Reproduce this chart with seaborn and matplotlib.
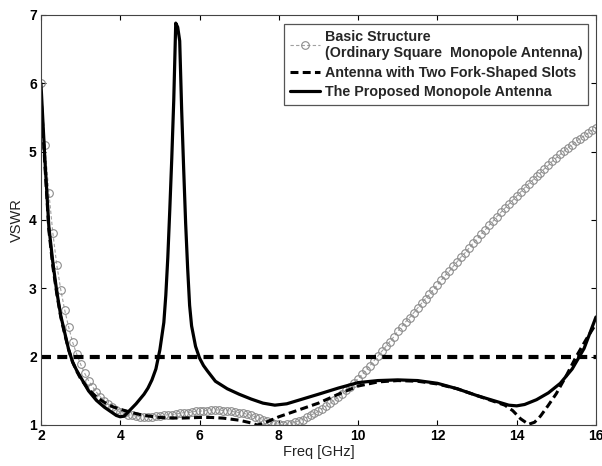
import matplotlib
matplotlib.use("Agg")
import matplotlib.pyplot as plt
import seaborn as sns
import numpy as np

# basic structure (ordinary square monopole), sampled every 0.1 GHz
basic_freq = np.round(np.arange(2.0, 16.01, 0.1), 1)
basic_vswr = [6.0, 5.1, 4.4, 3.81, 3.34, 2.98, 2.68, 2.43, 2.21, 2.04,
              1.89, 1.76, 1.65, 1.56, 1.48, 1.41, 1.35, 1.30, 1.26, 1.22,
              1.19, 1.17, 1.15, 1.14, 1.13, 1.12, 1.12, 1.12, 1.12, 1.13,
              1.13, 1.14, 1.15, 1.15, 1.16, 1.17, 1.18, 1.18, 1.19, 1.20,
              1.20, 1.21, 1.21, 1.22, 1.22, 1.22, 1.21, 1.21, 1.20, 1.19,
              1.18, 1.17, 1.16, 1.14, 1.12, 1.10, 1.08, 1.06, 1.04, 1.02,
              1.01, 1.00, 1.01, 1.02, 1.04, 1.06, 1.08, 1.11, 1.14, 1.17,
              1.20, 1.24, 1.28, 1.32, 1.36, 1.41, 1.46, 1.51, 1.56, 1.62,
              1.68, 1.74, 1.80, 1.87, 1.94, 2.01, 2.08, 2.15, 2.22, 2.29,
              2.37, 2.44, 2.51, 2.57, 2.64, 2.71, 2.78, 2.85, 2.91, 2.98,
              3.05, 3.12, 3.19, 3.25, 3.32, 3.39, 3.46, 3.52, 3.59, 3.66,
              3.72, 3.79, 3.85, 3.92, 3.98, 4.05, 4.11, 4.17, 4.23, 4.29,
              4.35, 4.41, 4.47, 4.53, 4.58, 4.64, 4.69, 4.75, 4.80, 4.86,
              4.91, 4.96, 5.01, 5.06, 5.10, 5.15, 5.19, 5.23, 5.27, 5.31,
              5.35]

# antenna with two fork-shaped slots
fork_freq = [2.0, 2.1, 2.2, 2.3, 2.4, 2.5, 2.6, 2.7, 2.8, 2.9, 3.0, 3.2, 3.4,
             3.6, 3.8, 4.0, 4.3, 4.6, 5.0, 5.5, 6.0, 6.3, 6.6, 7.0, 7.3, 7.45,
             7.6, 7.8, 8.0, 8.3, 8.6, 9.0, 9.5, 10.0, 10.5, 11.0, 11.5, 12.0,
             12.5, 13.0, 13.4, 13.7, 13.9, 14.1, 14.3, 14.45, 14.6, 14.8, 15.0,
             15.25, 15.5, 15.75, 16.0]
fork_vswr = [5.85, 4.8, 3.85, 3.32, 2.92, 2.58, 2.33, 2.1, 1.92, 1.79, 1.68,
             1.52, 1.41, 1.33, 1.27, 1.23, 1.18, 1.14, 1.11, 1.10, 1.11, 1.11,
             1.10, 1.07, 1.03, 1.00, 1.02, 1.07, 1.12, 1.18, 1.24, 1.32, 1.45,
             1.57, 1.63, 1.65, 1.64, 1.60, 1.53, 1.43, 1.35, 1.29, 1.21, 1.09,
             1.01, 1.04, 1.13, 1.29, 1.46, 1.72, 2.0, 2.25, 2.48]

# proposed monopole antenna
prop_freq = [2.0, 2.1, 2.2, 2.3, 2.4, 2.5, 2.6, 2.7, 2.8, 2.9, 3.0, 3.2, 3.4,
             3.6, 3.8, 3.9, 4.0, 4.1, 4.2, 4.4, 4.6, 4.7, 4.8, 4.9, 5.0, 5.1,
             5.15, 5.2, 5.25, 5.3, 5.35, 5.4, 5.45, 5.5, 5.55, 5.6, 5.65, 5.7,
             5.75, 5.8, 5.9, 6.0, 6.1, 6.2, 6.4, 6.7, 7.0, 7.3, 7.6, 7.9, 8.2,
             8.6, 9.0, 9.5, 10.0, 10.5, 11.0, 11.5, 12.0, 12.5, 13.0, 13.4,
             13.8, 14.0, 14.2, 14.5, 14.8, 15.1, 15.4, 15.7, 16.0]
prop_vswr = [6.0, 4.88, 3.9, 3.38, 2.95, 2.6, 2.35, 2.1, 1.92, 1.8, 1.7, 1.5,
             1.36, 1.26, 1.18, 1.14, 1.12, 1.13, 1.19, 1.31, 1.45, 1.54, 1.66,
             1.82, 2.1, 2.5, 2.9, 3.45, 4.15, 4.9, 5.75, 6.88, 6.82, 6.62,
             5.6, 4.75, 3.95, 3.3, 2.75, 2.45, 2.15, 1.98, 1.87, 1.79, 1.64,
             1.53, 1.45, 1.38, 1.32, 1.29, 1.31, 1.38, 1.45, 1.54, 1.62, 1.65,
             1.66, 1.65, 1.61, 1.53, 1.43, 1.36, 1.29, 1.28, 1.30, 1.37, 1.47,
             1.61, 1.82, 2.12, 2.58]

vswr_limit = 2
labels = ['Basic Structure\n(Ordinary Square  Monopole Antenna)',
          'Antenna with Two Fork-Shaped Slots',
          'The Proposed Monopole Antenna']

sns.set_style('ticks')
plt.rcParams['font.family'] = ['Liberation Sans', 'DejaVu Sans']

fig, ax = plt.subplots(figsize=(6.02, 4.66), dpi=100)
fig.subplots_adjust(left=0.068, right=0.990, top=0.968, bottom=0.088)

sns.lineplot(x=basic_freq, y=basic_vswr, ax=ax, color='#a0a0a0', linewidth=0.8,
             linestyle=(0, (3, 2)), marker='o', markersize=5.5,
             markerfacecolor='none', markeredgecolor='#8c8c8c',
             markeredgewidth=0.8, label=labels[0])
sns.lineplot(x=fork_freq, y=fork_vswr, ax=ax, color='black', linewidth=2.2,
             linestyle=(0, (2.6, 1.4)), label=labels[1])
sns.lineplot(x=prop_freq, y=prop_vswr, ax=ax, color='black', linewidth=2.3,
             label=labels[2])
ax.axhline(vswr_limit, color='black', linewidth=3.0, linestyle=(0, (2.4, 1.5)))

ax.set_xlim(2, 16)
ax.set_ylim(1, 7)
ax.set_xticks(range(2, 17, 2))
ax.set_yticks(range(1, 8))
ax.tick_params(direction='in', length=3.5, width=0.8, top=True, right=True,
               labelsize=10, pad=3, colors='black')
for lab in ax.get_xticklabels() + ax.get_yticklabels():
    lab.set_fontweight('bold')
for sp in ax.spines.values():
    sp.set_color('#444444')
    sp.set_linewidth(0.8)

ax.set_xlabel('Freq [GHz]', fontsize=10.5, color='#222222', labelpad=1)
ax.set_ylabel('VSWR', fontsize=10.5, color='#222222', labelpad=4)

leg = ax.legend(loc='upper right', bbox_to_anchor=(0.986, 0.978),
                borderaxespad=0, fancybox=False, framealpha=1,
                edgecolor='#555555', prop={'weight': 'bold', 'size': 10.3},
                handlelength=2.1, handletextpad=0.35, borderpad=0.4,
                labelspacing=0.4)
leg.get_frame().set_linewidth(0.9)
leg.get_texts()[0].set_linespacing(1.2)

plt.savefig('out.png', dpi=100)
